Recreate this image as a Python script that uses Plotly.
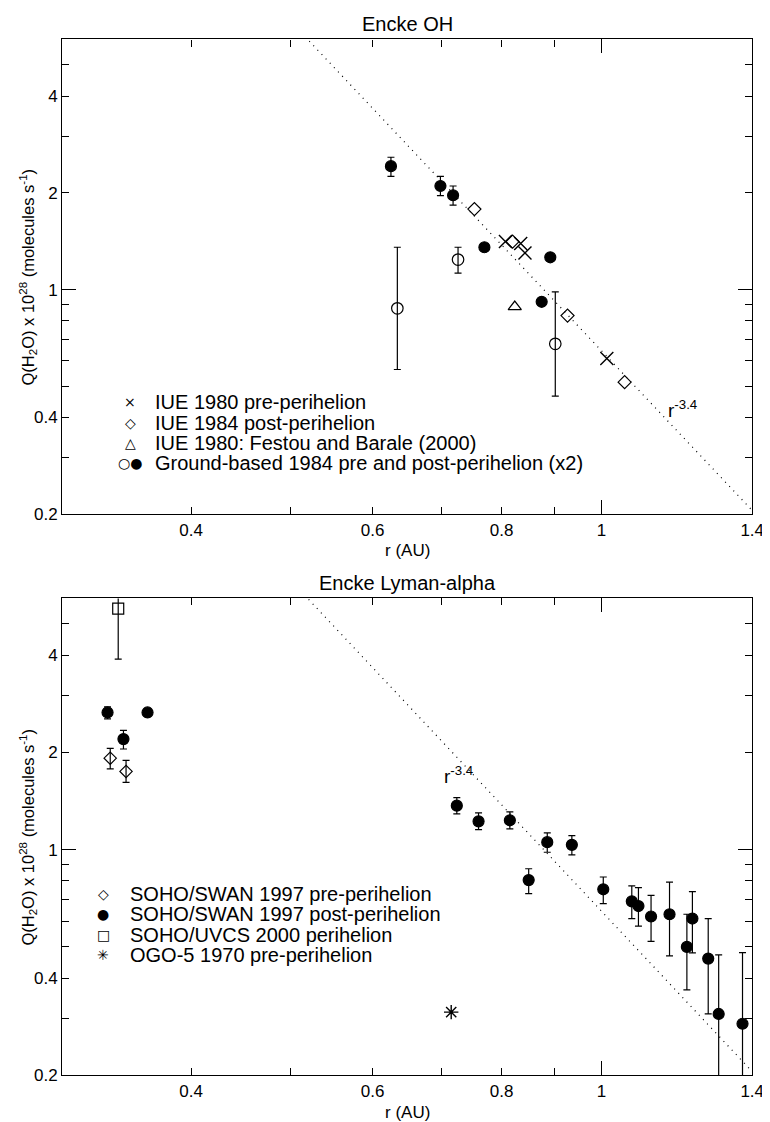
import numpy as np
import plotly.graph_objects as go

# ---------------- data: top panel (Encke OH) ----------------
iue80_r = [0.807, 0.835, 0.843, 1.012]
iue80_q = [1.41, 1.39, 1.30, 0.61]

iue84_r = [0.753, 0.820, 0.927, 1.053]
iue84_q = [1.78, 1.41, 0.83, 0.515]

festou_r = [0.824]
festou_q = [0.884]

gb_open_r = [0.634, 0.726, 0.902]
gb_open_q = [0.874, 1.24, 0.678]
gb_open_up = [0.48, 0.114, 0.305]
gb_open_dn = [0.31, 0.115, 0.212]

gb_fill_r = [0.625, 0.698, 0.718, 0.770, 0.875, 0.892]
gb_fill_q = [2.42, 2.10, 1.965, 1.354, 0.916, 1.26]
gb_fill_up = [0.16, 0.15, 0.135, 0, 0, 0]
gb_fill_dn = [0.17, 0.14, 0.135, 0, 0, 0]

# ---------------- data: bottom panel (Encke Lyman-alpha) ----------------
swan_pre_r = [0.334, 0.346]
swan_pre_q = [1.92, 1.747]
swan_pre_up = [0.14, 0.143]
swan_pre_dn = [0.14, 0.132]

swan_post_r = [0.332, 0.344, 0.363, 0.724, 0.760, 0.815, 0.850, 0.886, 0.936, 1.004,
               1.070, 1.086, 1.117, 1.164, 1.210, 1.225, 1.269, 1.299, 1.370]
swan_post_q = [2.66, 2.20, 2.66, 1.369, 1.224, 1.233, 0.805, 1.055, 1.035, 0.754,
               0.692, 0.669, 0.621, 0.631, 0.50, 0.612, 0.46, 0.31, 0.289]
swan_post_up = [0.11, 0.14, 0.08, 0.08, 0.076, 0.077, 0.068, 0.072, 0.071, 0.069,
                0.08, 0.094, 0.101, 0.163, 0.131, 0.13, 0.152, 0.162, 0.191]
swan_post_dn = [0.12, 0.15, 0.08, 0.079, 0.07, 0.073, 0.074, 0.073, 0.071, 0.073,
                0.08, 0.089, 0.101, 0.162, 0.132, 0.133, 0.15, 0.16, 0.14]

uvcs_r = [0.340]
uvcs_q = [5.58]
uvcs_up = [2.5]
uvcs_dn = [1.69]

ogo_r = [0.715]
ogo_q = [0.314]

# power-law reference r^-3.4
law_coef = 0.645
law_exp = -3.4
law_r = [0.3, 1.4]
law_q = [law_coef * r ** law_exp for r in law_r]

x_range = [0.3, 1.4]
y_range = [0.2, 6.0]
x_labels = [0.4, 0.6, 0.8, 1, 1.4]
x_minor = [0.3, 0.5, 0.7, 0.9]
y_labels = [0.2, 0.4, 1, 2, 4]
y_minor = [0.3, 0.5, 0.6, 0.7, 0.8, 0.9, 3, 5]

FONT = "Liberation Sans, Arial, Helvetica, sans-serif"
W, H = 770, 1122
XL, XR = 55, 756
PANELS = [(31.7, 510.8), (595.7, 1077.0)]

fig = go.Figure()


def err(up, dn, width=3.5):
    return dict(type="data", array=up, arrayminus=dn, symmetric=False,
                color="black", thickness=1.2, width=width)


def add(ax, r, q, symbol, size, up=None, dn=None, lw=1.2):
    kw = {}
    if up is not None:
        kw["error_y"] = err(up, dn)
    fig.add_trace(go.Scatter(
        x=r, y=q, mode="markers", xaxis="x" + ax, yaxis="y" + ax, showlegend=False,
        marker=dict(symbol=symbol, size=size, color="black",
                    line=dict(color="black", width=lw)),
        **kw))


# top panel traces
fig.add_trace(go.Scatter(x=law_r, y=law_q, mode="lines", xaxis="x", yaxis="y",
                         line=dict(color="black", width=1.2, dash="1px,5px"),
                         showlegend=False))
add("", iue80_r, iue80_q, "x-thin-open", 13, lw=1.4)
add("", iue84_r, iue84_q, "diamond-open", 10)
add("", festou_r, festou_q, "triangle-up-open", 11.5)
add("", gb_open_r, gb_open_q, "circle-open", 11.5, gb_open_up, gb_open_dn)
add("", gb_fill_r, gb_fill_q, "circle", 11, gb_fill_up, gb_fill_dn)

# bottom panel traces
fig.add_trace(go.Scatter(x=law_r, y=law_q, mode="lines", xaxis="x2", yaxis="y2",
                         line=dict(color="black", width=1.2, dash="1px,5px"),
                         showlegend=False))
add("2", swan_pre_r, swan_pre_q, "diamond-open", 9.5, swan_pre_up, swan_pre_dn)
add("2", swan_post_r, swan_post_q, "circle", 11, swan_post_up, swan_post_dn)
add("2", uvcs_r, uvcs_q, "square-open", 11, uvcs_up, uvcs_dn)
add("2", ogo_r, ogo_q, "asterisk-open", 12, lw=1.4)


def xaxis_def(anchor):
    return dict(type="log", range=[np.log10(x_range[0]), np.log10(x_range[1])],
                domain=[XL / W, XR / W], anchor=anchor,
                tickvals=x_labels, ticktext=[str(v) for v in x_labels],
                ticks="inside", ticklen=7, tickwidth=1, tickcolor="black",
                minor=dict(tickvals=x_minor, ticks="inside", ticklen=7,
                           tickcolor="black", tickwidth=1, showgrid=False),
                showline=True, linecolor="black", linewidth=1.2, mirror="ticks",
                showgrid=False, zeroline=False,
                tickfont=dict(family=FONT, size=17, color="black"))


def yaxis_def(anchor, top, bot):
    return dict(type="log", range=[np.log10(y_range[0]), np.log10(y_range[1])],
                domain=[1 - bot / H, 1 - top / H], anchor=anchor,
                tickvals=y_labels, ticktext=[str(v) for v in y_labels],
                ticks="inside", ticklen=7, tickwidth=1, tickcolor="black",
                minor=dict(tickvals=y_minor, ticks="inside", ticklen=7,
                           tickcolor="black", tickwidth=1, showgrid=False),
                showline=True, linecolor="black", linewidth=1.2, mirror="ticks",
                showgrid=False, zeroline=False,
                tickfont=dict(family=FONT, size=17, color="black"))


layout = dict(
    width=W, height=H, margin=dict(l=0, r=0, t=0, b=0),
    paper_bgcolor="white", plot_bgcolor="white", showlegend=False,
    font=dict(family=FONT, size=17, color="black"),
    xaxis=xaxis_def("y"), yaxis=yaxis_def("x", *PANELS[0]),
    xaxis2=xaxis_def("y2"), yaxis2=yaxis_def("x2", *PANELS[1]),
)
# long tick at 1 (overlay axes)
for i, (xa, ya) in enumerate([("x", "y"), ("x2", "y2")]):
    n = 3 + 2 * i
    layout["xaxis%d" % n] = dict(type="log", overlaying=xa, anchor=ya,
                                 range=[np.log10(x_range[0]), np.log10(x_range[1])],
                                 tickvals=[1], ticks="inside", ticklen=14,
                                 tickcolor="black", showticklabels=False,
                                 showline=False, mirror="ticks", showgrid=False)
    layout["yaxis%d" % (n + 1)] = dict(type="log", overlaying=ya, anchor=xa,
                                       range=[np.log10(y_range[0]), np.log10(y_range[1])],
                                       tickvals=[1], ticks="inside", ticklen=14,
                                       tickcolor="black", showticklabels=False,
                                       showline=False, mirror="ticks", showgrid=False)
    fig.add_trace(go.Scatter(x=[1], y=[1], xaxis="x%d" % n, yaxis="y%d" % (n + 1),
                             mode="markers", marker=dict(opacity=0), hoverinfo="skip",
                             showlegend=False))

fig.update_layout(**layout)

ann = []
titles = ["Encke OH", "Encke Lyman-alpha"]
ytitle = "Q(H<sub>2</sub>O) x 10<sup>28</sup> (molecules s<sup>-1</sup>)"
for i, (top, bot) in enumerate(PANELS):
    ann.append(dict(text=titles[i], x=(XL + XR) / 2 / W, y=1 - (top - 16) / H,
                    xref="paper", yref="paper", showarrow=False,
                    font=dict(family=FONT, size=20), xanchor="center", yanchor="middle"))
    ann.append(dict(text="r (AU)", x=(XL + XR) / 2 / W, y=1 - (bot + 37) / H,
                    xref="paper", yref="paper", showarrow=False,
                    font=dict(family=FONT, size=17), xanchor="center", yanchor="middle"))
    ann.append(dict(text=ytitle, x=20 / W, y=1 - (top + bot) / 2 / H,
                    xref="paper", yref="paper", showarrow=False, textangle=-90,
                    font=dict(family=FONT, size=16.5), xanchor="center", yanchor="middle"))

# r^-3.4 labels
ann.append(dict(text="r<sup>-3.4</sup>", x=np.log10(1.155), y=np.log10(0.385),
                xref="x", yref="y", showarrow=False, xanchor="left",
                yanchor="bottom", font=dict(family=FONT, size=19)))
ann.append(dict(text="r<sup>-3.4</sup>", x=np.log10(0.70), y=np.log10(1.70),
                xref="x2", yref="y2", showarrow=False, xanchor="left",
                yanchor="middle", font=dict(family=FONT, size=19)))

legend_top = [("\u00d7", "IUE 1980 pre-perihelion"),
              ("\u25c7", "IUE 1984 post-perihelion"),
              ("\u25b3", "IUE 1980: Festou and Barale (2000)"),
              ("\u25cb\u25cf", "Ground-based 1984 pre and post-perihelion (x2)")]
legend_bot = [("\u25c7", "SOHO/SWAN 1997 pre-perihelion"),
              ("\u25cf", "SOHO/SWAN 1997 post-perihelion"),
              ("\u25a1", "SOHO/UVCS 2000 perihelion"),
              ("\u2733", "OGO-5 1970 pre-perihelion")]
for items, y0, mx, tx in [(legend_top, 398, 124, 147), (legend_bot, 894, 97, 122)]:
    for k, (sym, lab) in enumerate(items):
        yy = 1 - (y0 + 20.5 * k) / H
        ann.append(dict(text=sym, x=mx / W, y=yy, xref="paper", yref="paper",
                        showarrow=False, xanchor="center", yanchor="middle",
                        font=dict(size=14, family="DejaVu Sans", color="black")))
        ann.append(dict(text=lab, x=tx / W, y=yy, xref="paper", yref="paper",
                        showarrow=False, xanchor="left", yanchor="middle",
                        font=dict(family=FONT, size=20, color="black")))

fig.update_layout(annotations=ann)
fig.write_html("out.html")
